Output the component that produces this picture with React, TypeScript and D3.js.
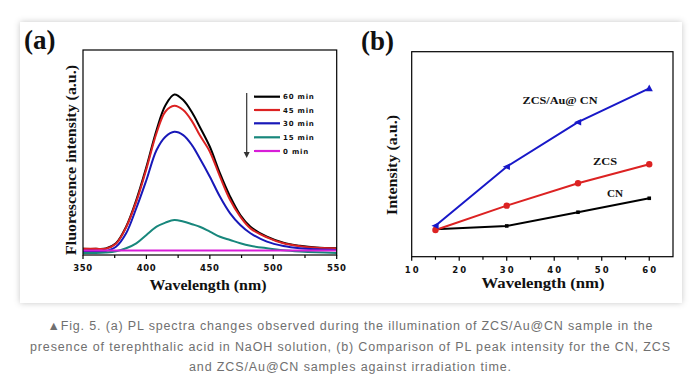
import React from "react";
import * as d3 from "d3";

// ---------- Panel (a) data: PL spectra ----------
const wavelengths = [350, 360, 368, 376, 384, 392, 400, 408, 415, 422, 429, 436, 442, 450, 458, 466, 474, 482, 495, 508, 521, 534, 550];
const pl60 = [3.0, 3.0, 3.2, 5.7, 13.8, 26.8, 43, 61, 73, 78.3, 75.6, 69.5, 62.6, 52.8, 39.8, 28.5, 19.5, 13.8, 8.9, 6.0, 4.5, 3.6, 3.3];
const pl45 = [3.0, 3.0, 3.1, 5.5, 13.5, 26, 42, 59.5, 70, 72.8, 70.7, 65.2, 58.5, 50.4, 38.2, 26.8, 18.7, 13, 8.6, 5.7, 4.3, 3.5, 3.2];
const pl30 = [1.8, 1.8, 2.0, 4.0, 10.6, 22.8, 36.6, 51.2, 57.7, 60.1, 58.5, 53.5, 47.2, 38.2, 28.4, 20.3, 14.6, 10.6, 6.5, 4.4, 3.3, 2.8, 2.5];
const pl15 = [1.0, 1.0, 1.2, 1.8, 3.3, 5.7, 9.8, 13.8, 15.8, 17.1, 16.3, 15, 13.8, 11.4, 8.9, 7.3, 5.7, 4.5, 3.3, 2.3, 1.7, 1.3, 1.0];
const pl0 = [2.2, 2.2, 2.2, 2.2, 2.2, 2.2, 2.2, 2.2, 2.2, 2.2, 2.2, 2.2, 2.2, 2.2, 2.2, 2.2, 2.2, 2.2, 2.2, 2.2, 2.2, 2.2, 2.2];
const legendLabels = ["60 min", "45 min", "30 min", "15 min", "0 min"];
const aMajorTicks = [350, 400, 450, 500, 550];
const aMinorTicks = [375, 425, 475, 525];

// ---------- Panel (b) data: peak intensity vs time ----------
const times = [15, 30, 45, 60];
const zcsAuCn = [15.1, 43.9, 65.6, 82.1];
const zcs = [13.0, 24.9, 35.8, 45.1];
const cn = [13.4, 15.0, 21.7, 28.5];
const bMajorTicks = [10, 20, 30, 40, 50, 60];
const bMinorTicks = [15, 25, 35, 45, 55];
const bSeriesLabels = ["ZCS/Au@ CN", "ZCS", "CN"];

const captionLines = [
  "\u25B2Fig. 5. (a) PL spectra changes observed during the illumination of ZCS/Au@CN sample in the",
  "presence of terephthalic acid in NaOH solution, (b) Comparison of PL peak intensity for the CN, ZCS",
  "and ZCS/Au@CN samples against irradiation time.",
];

const SERIF = "'Liberation Serif', 'Times New Roman', serif";
const SANS = "'DejaVu Sans', sans-serif";

export default function App() {
  // Panel (a) scales
  const ax = d3.scaleLinear().domain([350, 550]).range([83, 336.7]);
  const ay = d3.scaleLinear().domain([0, 100]).range([255, 50]);
  const aLine = d3
    .line<number>()
    .x((_, i) => ax(wavelengths[i]))
    .y((d) => ay(d))
    .curve(d3.curveCatmullRom.alpha(0.5));
  const aSeries = [
    { vals: pl60, color: "#000000" },
    { vals: pl45, color: "#dc2222" },
    { vals: pl30, color: "#1818b8" },
    { vals: pl15, color: "#18877c" },
    { vals: pl0, color: "#d81ed8" },
  ];

  // Panel (b) scales
  const bx = d3.scaleLinear().domain([10, 65]).range([411.7, 673]);
  const by = d3.scaleLinear().domain([0, 100]).range([256.7, 51.7]);
  const bLine = d3
    .line<number>()
    .x((_, i) => bx(times[i]))
    .y((d) => by(d));

  const triLeft = (cx: number, cy: number, s: number) =>
    `M${cx - s},${cy} L${cx + s * 0.8},${cy - s * 0.8} L${cx + s * 0.8},${cy + s * 0.8} Z`;
  const triUp = (cx: number, cy: number, s: number) =>
    `M${cx},${cy - s} L${cx + s * 0.9},${cy + s * 0.7} L${cx - s * 0.9},${cy + s * 0.7} Z`;

  const legendY = [96.7, 110, 123.3, 137.3, 151];

  return (
    <div style={{ position: "absolute", left: 0, top: 0, width: 698, height: 389, background: "#fff" }}>
      <svg width={698} height={389} viewBox="0 0 698 389">
        <defs>
          <filter id="shadow" x="-5%" y="-5%" width="110%" height="110%">
            <feDropShadow dx="0" dy="0" stdDeviation="3" floodColor="#000" floodOpacity="0.22" />
          </filter>
        </defs>
        <rect x={0} y={0} width={698} height={389} fill="#ffffff" />
        <rect x={20} y={22} width={662} height={281} fill="#ffffff" filter="url(#shadow)" />

        {/* ---------- Panel (a) ---------- */}
        <text x={24} y={49} fontFamily={SERIF} fontWeight="bold" fontSize={27} fill="#111">(a)</text>
        <g>
          {aSeries.map((s, i) => (
            <path key={i} d={aLine(s.vals) || ""} fill="none" stroke={s.color} strokeWidth={2} />
          ))}
        </g>
        <rect x={ax(350)} y={ay(100)} width={ax(550) - ax(350)} height={ay(0) - ay(100)} fill="none" stroke="#000" strokeWidth={1.2} />
        {aMajorTicks.map((t) => (
          <g key={t}>
            <line x1={ax(t)} x2={ax(t)} y1={ay(0)} y2={ay(0) + 4} stroke="#000" strokeWidth={1.2} />
            <text x={ax(t)} y={271} textAnchor="middle" fontFamily={SANS} fontWeight="bold" fontSize={8.5} letterSpacing={0.6} fill="#111">{t}</text>
          </g>
        ))}
        {aMinorTicks.map((t) => (
          <line key={t} x1={ax(t)} x2={ax(t)} y1={ay(0)} y2={ay(0) + 3} stroke="#000" strokeWidth={1.2} />
        ))}
        <text x={208} y={290} textAnchor="middle" fontFamily={SERIF} fontWeight="bold" fontSize={14} textLength={117} lengthAdjust="spacingAndGlyphs" fill="#111">Wavelength (nm)</text>
        <text transform="translate(76,160) rotate(-90)" textAnchor="middle" fontFamily={SERIF} fontWeight="bold" fontSize={14} textLength={190} lengthAdjust="spacingAndGlyphs" fill="#111">Fluorescence intensity (a.u.)</text>

        {/* legend */}
        <line x1={246.7} x2={246.7} y1={93} y2={155} stroke="#333" strokeWidth={1.2} />
        <path d="M243.7,152 L246.7,158 L249.7,152 Z" fill="#333" />
        {legendLabels.map((lab, i) => (
          <g key={lab}>
            <line x1={254} x2={280} y1={legendY[i]} y2={legendY[i]} stroke={aSeries[i].color} strokeWidth={2.2} />
            <text x={283} y={legendY[i] + 2.6} fontFamily={SANS} fontWeight="bold" fontSize={7} letterSpacing={0.8} fill="#111">{lab}</text>
          </g>
        ))}

        {/* ---------- Panel (b) ---------- */}
        <text x={361} y={50} fontFamily={SERIF} fontWeight="bold" fontSize={27} fill="#111">(b)</text>
        <path d={bLine(cn) || ""} fill="none" stroke="#000" strokeWidth={2} />
        {times.map((t, i) => (
          <rect key={"cn" + t} x={bx(t) - 1.8} y={by(cn[i]) - 1.8} width={3.6} height={3.6} fill="#000" />
        ))}
        <path d={bLine(zcs) || ""} fill="none" stroke="#dc2222" strokeWidth={2} />
        {times.map((t, i) => (
          <circle key={"zcs" + t} cx={bx(t)} cy={by(zcs[i])} r={3.2} fill="#dc2222" />
        ))}
        <path d={bLine(zcsAuCn) || ""} fill="none" stroke="#1818c8" strokeWidth={2} />
        {times.map((t, i) => (
          <path
            key={"au" + t}
            d={i === times.length - 1 ? triUp(bx(t), by(zcsAuCn[i]), 4) : triLeft(bx(t), by(zcsAuCn[i]), 4)}
            fill="#1818c8"
          />
        ))}
        <rect x={bx(10)} y={by(100)} width={bx(65) - bx(10)} height={by(0) - by(100)} fill="none" stroke="#000" strokeWidth={1.2} />
        {bMajorTicks.map((t) => (
          <g key={t}>
            <line x1={bx(t)} x2={bx(t)} y1={by(0)} y2={by(0) + 4} stroke="#000" strokeWidth={1.2} />
            <text x={bx(t) + 1} y={273} textAnchor="middle" fontFamily={SANS} fontWeight="bold" fontSize={8.5} letterSpacing={2} fill="#111">{t}</text>
          </g>
        ))}
        {bMinorTicks.map((t) => (
          <line key={t} x1={bx(t)} x2={bx(t)} y1={by(0)} y2={by(0) + 3} stroke="#000" strokeWidth={1.2} />
        ))}
        <text x={543} y={288} textAnchor="middle" fontFamily={SERIF} fontWeight="bold" fontSize={14} textLength={123} lengthAdjust="spacingAndGlyphs" fill="#111">Wavelength (nm)</text>
        <text transform="translate(397,165) rotate(-90)" textAnchor="middle" fontFamily={SERIF} fontWeight="bold" fontSize={14} textLength={100} lengthAdjust="spacingAndGlyphs" fill="#111">Intensity (a.u.)</text>
        <text x={560} y={104} textAnchor="middle" fontFamily={SERIF} fontWeight="bold" fontSize={11} textLength={75} lengthAdjust="spacingAndGlyphs" fill="#111">{bSeriesLabels[0]}</text>
        <text x={605} y={165} textAnchor="middle" fontFamily={SERIF} fontWeight="bold" fontSize={11} textLength={24} lengthAdjust="spacingAndGlyphs" fill="#111">{bSeriesLabels[1]}</text>
        <text x={615} y={197} textAnchor="middle" fontFamily={SERIF} fontWeight="bold" fontSize={11} textLength={16} lengthAdjust="spacingAndGlyphs" fill="#111">{bSeriesLabels[2]}</text>

        {/* ---------- caption ---------- */}
        {captionLines.map((line, i) => (
          <text
            key={i}
            x={350}
            y={330 + i * 20.7}
            textAnchor="middle"
            fontFamily="'Liberation Sans Narrow', 'Liberation Sans', Arial, sans-serif"
            fontSize={12.5}
            textLength={[605, 640, 322][i]}
            lengthAdjust="spacing"
            fill="#707070"
          >
            {line}
          </text>
        ))}
      </svg>
    </div>
  );
}
